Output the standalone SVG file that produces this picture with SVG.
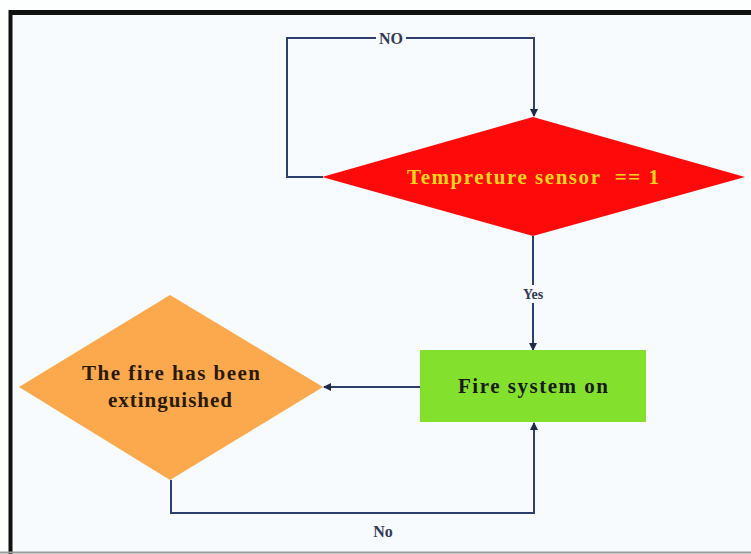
<svg xmlns="http://www.w3.org/2000/svg" width="751" height="554" viewBox="0 0 751 554">
<defs>
<marker id="ah" markerWidth="8" markerHeight="8" refX="7" refY="4" orient="auto" markerUnits="userSpaceOnUse">
<path d="M0,0 L8,4 L0,8 Z" fill="#1f2a4a"/>
</marker>
<style>
.ln{fill:none;stroke:#2e3f6e;stroke-width:2}
.lbl{font-family:"Liberation Serif",serif;font-weight:bold;font-size:16px;fill:#333a55}
.t{font-family:"Liberation Serif",serif;font-weight:bold;text-anchor:middle}
</style>
</defs>
<rect width="751" height="554" fill="#fdfefe"/>
<rect x="10" y="12" width="745" height="540" fill="#f7fbfd"/>
<line x1="10" y1="12.5" x2="751" y2="12.5" stroke="#111" stroke-width="5"/>
<line x1="10.5" y1="10" x2="10.5" y2="554" stroke="#111" stroke-width="4"/>
<line x1="0" y1="552.5" x2="751" y2="552.5" stroke="#999" stroke-width="2"/>
<g id="connectors">
<polyline class="ln" points="323,177 287,177 287,38 534,38 534,116" marker-end="url(#ah)"/>
<line class="ln" x1="533" y1="236" x2="533" y2="350" marker-end="url(#ah)"/>
<line class="ln" x1="420" y1="387" x2="324" y2="387" marker-end="url(#ah)"/>
<polyline class="ln" points="171,480 171,513 534,513 534,423" marker-end="url(#ah)"/>
<rect x="376" y="30" width="30" height="16" fill="#f7fbfd"/>
<text class="lbl" x="391" y="44" text-anchor="middle">NO</text>
<rect x="518" y="285" width="30" height="18" fill="#f7fbfd"/>
<text class="lbl" x="533" y="299" text-anchor="middle" style="font-size:14px">Yes</text>
<text class="lbl" x="383" y="537" text-anchor="middle">No</text>
</g>
<g id="sensor">
<polygon points="533,117 745,177 533,236 322,177" fill="#ff0a0a"/>
<text class="t" x="533" y="184" font-size="21" fill="#f7d51c" xml:space="preserve" textLength="252" lengthAdjust="spacing">Tempreture sensor  == 1</text>
</g>
<g id="firesystem">
<rect x="420" y="350" width="226" height="72" fill="#83e12e"/>
<text class="t" x="533" y="393" font-size="21" fill="#1a1a1a" textLength="150" lengthAdjust="spacing">Fire system on</text>
</g>
<g id="extinguished">
<polygon points="170,295 323,387 170,480 19,387" fill="#fba94c"/>
<text class="t" x="171" y="380" font-size="21" fill="#2a1a05" textLength="178" lengthAdjust="spacing">The fire has been</text>
<text class="t" x="170" y="407" font-size="21" fill="#2a1a05" textLength="124" lengthAdjust="spacing">extinguished</text>
</g>
</svg>
